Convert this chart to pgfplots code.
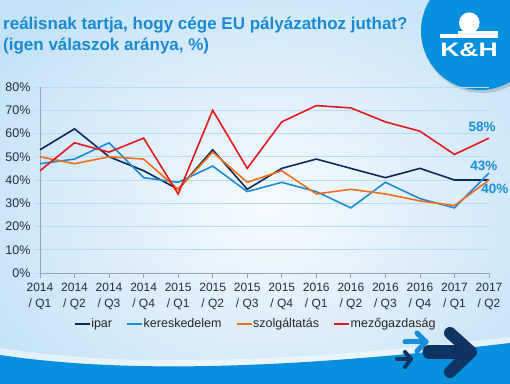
\documentclass[border=0pt]{standalone}
\usepackage{pgfplots}
\pgfplotsset{compat=1.18}
\usepackage{graphicx}
\usepackage{fontspec}
\setmainfont{Liberation Sans}
\definecolor{ipar}{RGB}{16,42,88}
\definecolor{keresk}{RGB}{24,142,216}
\definecolor{szolg}{RGB}{244,108,28}
\definecolor{mezo}{RGB}{230,22,30}
\definecolor{titleblue}{RGB}{26,138,212}
\definecolor{wave}{RGB}{8,143,221}
\definecolor{navy}{RGB}{14,52,99}
\definecolor{gridc}{RGB}{186,220,242}
\definecolor{axisc}{RGB}{150,165,180}
\definecolor{tickc}{RGB}{34,44,66}
\definecolor{bgout}{RGB}{196,226,246}
\definecolor{bgin}{RGB}{246,251,255}
\begin{document}
\begin{tikzpicture}
\useasboundingbox (0,0) rectangle (510bp,384bp);
\clip (0,0) rectangle (510bp,384bp);
\begin{scope}[x=1bp,y=1bp]
\shade[inner color=bgin, outer color=bgout] (-60,-80) rectangle (600,440);
% wave
\fill[white, opacity=0.5] (0,36) .. controls (100,20) and (250,16) .. (510,47) -- (510,41) .. controls (250,10) and (100,14) .. (0,29) -- cycle;
\fill[wave] (0,0) -- (0,29) .. controls (100,14) and (250,10) .. (510,41) -- (510,0) -- cycle;
% arrows
\draw[keresk, line width=5bp, line cap=round, line join=round] (405,42) -- (426,42);
\draw[keresk, line width=5bp, line cap=round, line join=round] (417,51) -- (426,42) -- (417,33);
\draw[navy, line width=4bp, line cap=round, line join=round] (397,25) -- (411,25);
\draw[navy, line width=4bp, line cap=round, line join=round] (405,32) -- (411,25) -- (405,17);
\draw[navy, line width=13bp, line cap=round, line join=round] (429,32) -- (470,32);
\draw[navy, line width=12bp, line cap=round, line join=round] (450,51) -- (471,32) -- (450,12);
% logo
\fill[black, opacity=0.15] (482,351) circle (60);
\fill[wave] (480,353) circle (59);
\fill[white] (469.3,361.3) circle (10.3);
\fill[white] (458,345.8) rectangle (498,352.5);
\fill[white] (440,345.8) rectangle (460,350);
\node[white, font=\fontsize{19.5bp}{20bp}\selectfont\bfseries, inner sep=0] at (469,333.7) {\scalebox{1.36}[1]{K\&H}};
% title
\node[anchor=base west, titleblue, font=\fontsize{17bp}{18bp}\selectfont\bfseries, inner sep=0] at (3,355) {reálisnak tartja, hogy cége EU pályázathoz juthat?};
\node[anchor=base west, titleblue, font=\fontsize{17bp}{18bp}\selectfont\bfseries, inner sep=0] at (3,334) {(igen válaszok aránya, \%)};
\end{scope}
\begin{axis}[
  at={(40bp,111bp)}, anchor=south west,
  scale only axis, width=449bp, height=186bp,
  xmin=0, xmax=13, ymin=0, ymax=80,
  axis x line*=bottom, axis y line*=left,
  axis line style={axisc, line width=0.8bp, -},
  xtick={0,...,13},
  xticklabels={{2014\\/ Q1},{2014\\/ Q2},{2014\\/ Q3},{2014\\/ Q4},{2015\\/ Q1},{2015\\/ Q2},{2015\\/ Q3},{2015\\/ Q4},{2016\\/ Q1},{2016\\/ Q2},{2016\\/ Q3},{2016\\/ Q4},{2017\\/ Q1},{2017\\/ Q2}},
  xticklabel style={align=center, font=\fontsize{12bp}{16bp}\selectfont, text=tickc, yshift=-2bp},
  x tick style={axisc, line width=0.8bp},
  ytick={0,10,...,80},
  yticklabels={0\%,10\%,20\%,30\%,40\%,50\%,60\%,70\%,80\%},
  yticklabel style={font=\fontsize{12.5bp}{13bp}\selectfont, text=tickc, xshift=-1bp},
  y tick style={gridc, line width=0.8bp},
  tick align=outside, major tick length=5bp,
  ymajorgrids, grid style={gridc, line width=0.8bp},
  every axis plot/.append style={line width=1.6bp, no markers},
  legend columns=4,
  legend style={at={(0.479,-0.274)}, anchor=center, draw=none, fill=none,
    font=\fontsize{12.5bp}{13bp}\selectfont, text=black!85,
    nodes={inner xsep=0.5bp},
    /tikz/every even column/.style={column sep=14bp}, inner sep=0pt},
  legend image code/.code={\draw[#1] (0bp,0bp) -- (15bp,0bp);},
  clip=false,
]
\addplot[ipar] coordinates {(0,53)(1,62)(2,50)(3,44)(4,36)(5,53)(6,36)(7,45)(8,49)(9,45)(10,41)(11,45)(12,40)(13,40)};
\addlegendentry{ipar}
\addplot[keresk] coordinates {(0,47)(1,49)(2,56)(3,41)(4,39)(5,46)(6,35)(7,39)(8,35)(9,28)(10,39)(11,32)(12,28)(13,43)};
\addlegendentry{kereskedelem}
\addplot[szolg] coordinates {(0,50)(1,47)(2,50)(3,49)(4,36)(5,52)(6,39)(7,44)(8,34)(9,36)(10,34)(11,31)(12,29)(13,40)};
\addlegendentry{szolgáltatás}
\addplot[mezo] coordinates {(0,44)(1,56)(2,52)(3,58)(4,34)(5,70)(6,45)(7,65)(8,72)(9,71)(10,65)(11,61)(12,51)(13,58)};
\addlegendentry{mezőgazdaság}
\node[keresk, font=\fontsize{13.5bp}{14bp}\selectfont\bfseries] at (axis cs:12.8,62.8) {58\%};
\node[keresk, font=\fontsize{13.5bp}{14bp}\selectfont\bfseries] at (axis cs:12.85,46) {43\%};
\node[keresk, font=\fontsize{13.5bp}{14bp}\selectfont\bfseries] at (axis cs:13.17,36.1) {40\%};
\end{axis}
\end{tikzpicture}
\end{document}
